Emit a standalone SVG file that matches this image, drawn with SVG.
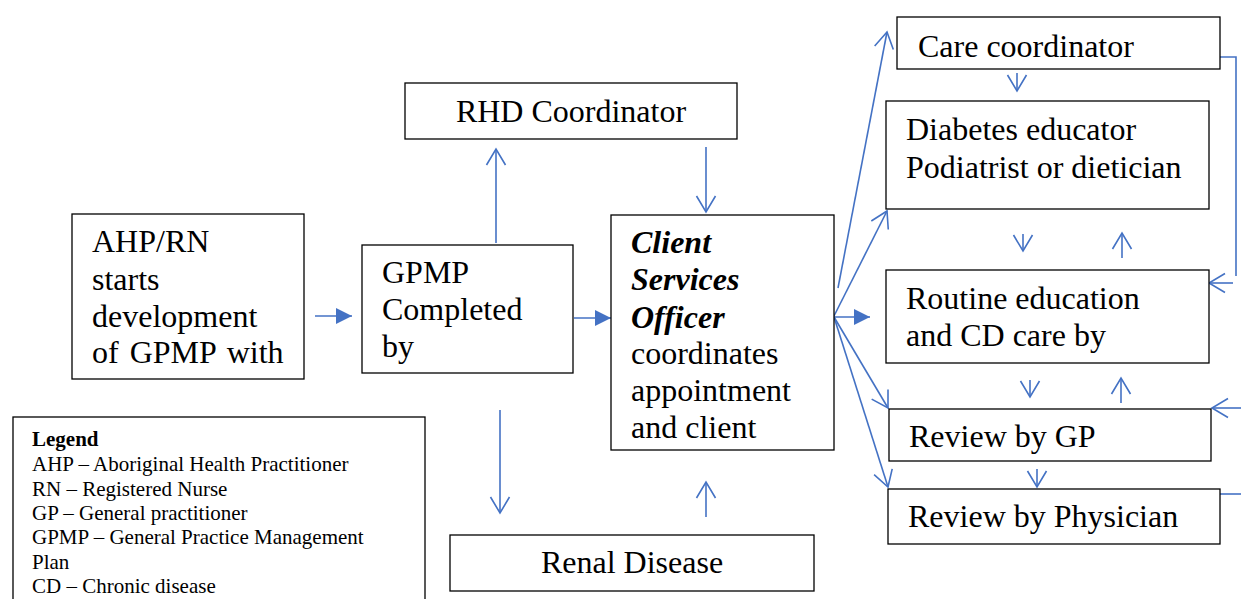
<svg xmlns="http://www.w3.org/2000/svg" width="1241" height="599" viewBox="0 0 1241 599">
<style>
.box{fill:#fff;stroke:#000;stroke-width:1.3}
.tx{font-family:"Liberation Serif","Times New Roman",serif;font-size:32px;fill:#000}
.bi{font-weight:bold;font-style:italic}
.lg{font-family:"Liberation Serif","Times New Roman",serif;font-size:21px;fill:#000}
.c{fill:none;stroke:#4472C4;stroke-width:1.6}
.o{marker-end:url(#open)}
.f{marker-end:url(#fill)}
</style>
<defs>
<marker id="open" markerUnits="userSpaceOnUse" markerWidth="20" markerHeight="22" viewBox="-18 -11 20 22" refX="0" refY="0" orient="auto" overflow="visible">
<path d="M-16,-9.5 L0,0 L-16,9.5" fill="none" stroke="#4472C4" stroke-width="1.6"/>
</marker>
<marker id="fill" markerUnits="userSpaceOnUse" markerWidth="20" markerHeight="20" viewBox="-18 -10 20 20" refX="0" refY="0" orient="auto" overflow="visible">
<path d="M-16,-8 L0,0 L-16,8 Z" fill="#4472C4"/>
</marker>
</defs>
<rect width="1241" height="599" fill="#fff"/>

<g id="connectors">
<line class="c f" x1="315" y1="316" x2="352" y2="316"/>
<line class="c f" x1="574" y1="318" x2="611" y2="318"/>
<line class="c o" x1="496" y1="243" x2="496" y2="149"/>
<line class="c o" x1="706" y1="147" x2="706" y2="212"/>
<line class="c o" x1="500" y1="410" x2="500" y2="513"/>
<line class="c o" x1="706" y1="517" x2="706" y2="482"/>
<line class="c o" x1="838" y1="288" x2="887" y2="32"/>
<line class="c o" x1="834" y1="316" x2="887" y2="211"/>
<line class="c f" x1="834" y1="317" x2="870" y2="317"/>
<line class="c o" x1="834" y1="317" x2="888" y2="408"/>
<line class="c o" x1="834" y1="317" x2="888" y2="487"/>
<line class="c o" x1="1017" y1="73" x2="1017" y2="91"/>
<line class="c o" x1="1023" y1="234" x2="1023" y2="251"/>
<line class="c o" x1="1122" y1="258" x2="1122" y2="233"/>
<line class="c o" x1="1030" y1="380" x2="1030" y2="397"/>
<line class="c o" x1="1121" y1="403" x2="1121" y2="378"/>
<line class="c o" x1="1037" y1="469" x2="1037" y2="487"/>
<polyline class="c" points="1220,57 1236,57 1236,276"/>
<line class="c o" x1="1233" y1="283" x2="1209" y2="283"/>
<line class="c o" x1="1241" y1="408" x2="1212" y2="408"/>
<line class="c" x1="1220" y1="494" x2="1241" y2="494"/>
</g>

<g id="ahp">
<rect class="box" x="72" y="214" width="232" height="165"/>
<text class="tx" x="92" y="252">AHP/RN</text>
<text class="tx" x="92" y="290">starts</text>
<text class="tx" x="92" y="327">development</text>
<text class="tx" x="92" y="363" word-spacing="3">of GPMP with</text>
</g>

<g id="gpmp">
<rect class="box" x="362" y="245" width="211" height="128"/>
<text class="tx" x="382" y="283">GPMP</text>
<text class="tx" x="382" y="320">Completed</text>
<text class="tx" x="382" y="357">by</text>
</g>

<g id="rhd">
<rect class="box" x="405" y="83" width="332" height="56"/>
<text class="tx" x="571" y="122" text-anchor="middle">RHD Coordinator</text>
</g>

<g id="cso">
<rect class="box" x="611" y="215" width="223" height="235"/>
<text class="tx bi" x="631" y="253">Client</text>
<text class="tx bi" x="631" y="290">Services</text>
<text class="tx bi" x="631" y="328">Officer</text>
<text class="tx" x="631" y="364">coordinates</text>
<text class="tx" x="631" y="401">appointment</text>
<text class="tx" x="631" y="438">and client</text>
</g>

<g id="renal">
<rect class="box" x="450" y="535" width="364" height="56"/>
<text class="tx" x="632" y="573" text-anchor="middle">Renal Disease</text>
</g>

<g id="care">
<rect class="box" x="897" y="17" width="323" height="52"/>
<text class="tx" x="918" y="57">Care coordinator</text>
</g>

<g id="diabetes">
<rect class="box" x="886" y="101" width="323" height="108"/>
<text class="tx" x="906" y="140">Diabetes educator</text>
<text class="tx" x="906" y="178">Podiatrist or dietician</text>
</g>

<g id="routine">
<rect class="box" x="886" y="270" width="323" height="93"/>
<text class="tx" x="906" y="309">Routine education</text>
<text class="tx" x="906" y="346">and CD care by</text>
</g>

<g id="gp">
<rect class="box" x="889" y="409" width="322" height="52"/>
<text class="tx" x="909" y="447">Review by GP</text>
</g>

<g id="physician">
<rect class="box" x="888" y="489" width="332" height="55"/>
<text class="tx" x="908" y="527">Review by Physician</text>
</g>

<g id="legend">
<rect class="box" x="13" y="417" width="412" height="200"/>
<text class="lg" x="32" y="446" font-weight="bold">Legend</text>
<text class="lg" x="32" y="471">AHP – Aboriginal Health Practitioner</text>
<text class="lg" x="32" y="496">RN – Registered Nurse</text>
<text class="lg" x="32" y="520">GP – General practitioner</text>
<text class="lg" x="32" y="544">GPMP – General Practice Management</text>
<text class="lg" x="32" y="569">Plan</text>
<text class="lg" x="32" y="593">CD – Chronic disease</text>
</g>
</svg>
